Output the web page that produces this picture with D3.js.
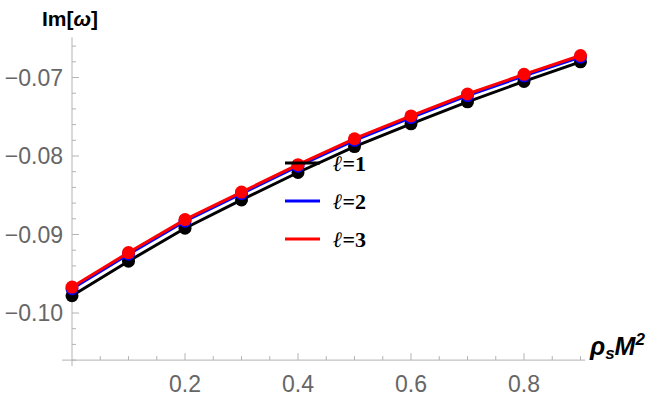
<!DOCTYPE html>
<html>
<head>
<meta charset="utf-8">
<script src="https://cdn.jsdelivr.net/npm/d3@7"></script>
<style>
  html, body { margin: 0; padding: 0; background: #fff; }
  svg { display: block; }
</style>
</head>
<body>
<div id="chart"></div>
<script>
const rhoValues = [0, 0.1, 0.2, 0.3, 0.4, 0.5, 0.6, 0.7, 0.8, 0.9];
const imL1 = [-0.0978, -0.0934, -0.0892, -0.0856, -0.0821, -0.0788, -0.0759, -0.0731, -0.0705, -0.0680];
const imL2 = [-0.0969, -0.0925, -0.0883, -0.0848, -0.0813, -0.0780, -0.0751, -0.0723, -0.0698, -0.0674];
const imL3 = [-0.0967, -0.0923, -0.0881, -0.0846, -0.0811, -0.0778, -0.0749, -0.0721, -0.0696, -0.0672];
const seriesNames = ["1", "2", "3"];
const seriesColors = ["#000000", "#0000ff", "#ff0000"];
const xTickLabels = [0.2, 0.4, 0.6, 0.8];
const yTickLabels = [-0.10, -0.09, -0.08, -0.07];

(function() {
	const width = 664, height = 397;
	const svg = d3.select("#chart").append("svg")
		.attr("width", width).attr("height", height);

	const x = d3.scaleLinear().domain([0, 0.9]).range([72, 580.5]);
	const y = d3.scaleLinear().domain([-0.10, -0.07]).range([313, 77.5]);
	const x0 = x(0), yAxisPos = y(-0.106);
	const axisColor = "#b3b3b3";

	// axis lines
	svg.append("line").attr("x1", x0).attr("x2", x0)
		.attr("y1", y(-0.0649)).attr("y2", yAxisPos + 6)
		.attr("stroke", axisColor).attr("stroke-width", 1);
	svg.append("line").attr("x1", x0 - 10).attr("x2", x(0.908))
		.attr("y1", yAxisPos).attr("y2", yAxisPos)
		.attr("stroke", axisColor).attr("stroke-width", 1);

	// y ticks
	const yMinor = d3.range(-0.106, -0.0649, 0.002);
	svg.append("g").selectAll("line").data(yMinor).join("line")
		.attr("x1", x0).attr("x2", d => x0 + (Math.abs(Math.round(d * 1000)) % 10 === 0 ? 7 : 4))
		.attr("y1", d => y(d)).attr("y2", d => y(d))
		.attr("stroke", axisColor);
	svg.append("g").selectAll("text").data(yTickLabels).join("text")
		.attr("x", x0 - 9).attr("y", d => y(d))
		.attr("dy", "0.36em").attr("text-anchor", "end")
		.attr("font-family", "Liberation Sans, Arial, sans-serif")
		.attr("font-size", 23).attr("fill", "#666")
		.text(d => d3.format(".2f")(d).replace("-", "\u2212"));

	// x ticks
	const xMinor = d3.range(0.05, 0.91, 0.05);
	svg.append("g").selectAll("line").data(xMinor).join("line")
		.attr("x1", d => x(d)).attr("x2", d => x(d))
		.attr("y1", yAxisPos)
		.attr("y2", d => yAxisPos - (Math.round(d * 100) % 20 === 0 ? 7 : 4))
		.attr("stroke", axisColor);
	svg.append("g").selectAll("text").data(xTickLabels).join("text")
		.attr("x", d => x(d)).attr("y", yAxisPos + 32)
		.attr("text-anchor", "middle")
		.attr("font-family", "Liberation Sans, Arial, sans-serif")
		.attr("font-size", 23).attr("fill", "#666")
		.text(d => d3.format(".1f")(d));

	// axis labels
	const title = svg.append("text").attr("x", 42).attr("y", 26)
		.attr("font-family", "Liberation Sans, Arial, sans-serif")
		.attr("font-size", 21).attr("font-weight", "bold").attr("fill", "#000");
	title.append("tspan").text("Im[");
	title.append("tspan").attr("font-style", "italic").text("\u03c9");
	title.append("tspan").text("]");

	const xl = svg.append("text").attr("x", 590).attr("y", 355)
		.attr("font-family", "Liberation Sans, Arial, sans-serif")
		.attr("font-size", 25).attr("font-weight", "bold").attr("font-style", "italic").attr("fill", "#000");
	xl.append("tspan").text("\u03c1");
	xl.append("tspan").attr("font-size", 17).attr("dy", 4).text("s");
	xl.append("tspan").attr("dy", -4).text("M");
	xl.append("tspan").attr("font-size", 17).attr("dy", -10).text("2");

	// series
	const series = [imL1, imL2, imL3].map((vals, i) => ({
		name: seriesNames[i], color: seriesColors[i],
		points: rhoValues.map((r, j) => [r, vals[j]])
	}));
	const line = d3.line().x(d => x(d[0])).y(d => y(d[1]));

	series.forEach(s => {
		const g = svg.append("g");
		g.append("path").datum(s.points)
			.attr("d", line).attr("fill", "none")
			.attr("stroke", s.color).attr("stroke-width", 3);
		g.selectAll("circle").data(s.points).join("circle")
			.attr("cx", d => x(d[0])).attr("cy", d => y(d[1]))
			.attr("r", 6.5).attr("fill", s.color);
	});

	// legend
	const legend = svg.append("g");
	series.forEach((s, i) => {
		const ly = 163 + i * 38;
		legend.append("line").attr("x1", 285).attr("x2", 320)
			.attr("y1", ly).attr("y2", ly)
			.attr("stroke", s.color).attr("stroke-width", 3);
		const t = legend.append("text").attr("x", 333).attr("y", ly + 8)
			.attr("font-family", "Liberation Serif, Times New Roman, serif")
			.attr("font-size", 22).attr("font-weight", "bold").attr("fill", "#000");
		t.append("tspan").attr("font-style", "italic").text("\u2113");
		t.append("tspan").text("=" + s.name);
	});
})();
</script>
</body>
</html>
